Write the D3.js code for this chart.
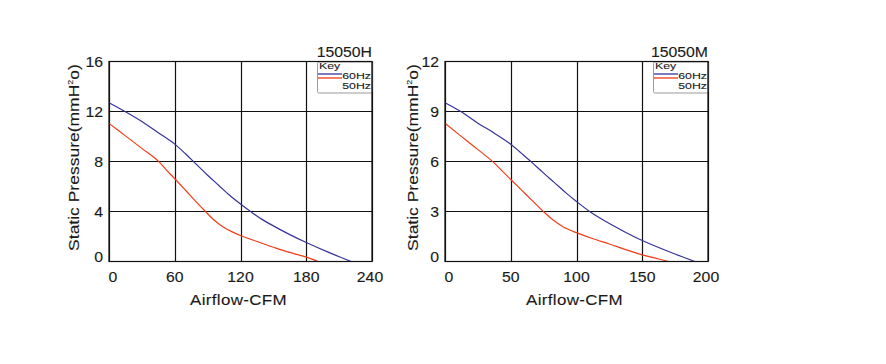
<!DOCTYPE html>
<html>
<head>
<meta charset="utf-8">
<script src="https://cdn.jsdelivr.net/npm/d3@7"></script>
<style>
  body { margin: 0; background: #fff; }
  svg text { font-family: "Liberation Sans", Arial, sans-serif; fill: #1a1a1a; stroke: #1a1a1a; stroke-width: 0.12px; }
</style>
</head>
<body>
<div></div>
<script>
// 15050H
const hTitle = '15050H';
const hXTicks = [0, 60, 120, 180, 240];
const hYTicks = [0, 4, 8, 12, 16];
const h60 = [[0, 12.7], [15, 11.98], [30, 11.2], [45, 10.3], [60, 9.39], [70, 8.6], [80, 7.75], [90, 6.9], [100, 6.1], [110, 5.3], [120, 4.6], [130, 3.95], [140, 3.35], [150, 2.85], [165, 2.15], [180, 1.52], [200, 0.75], [221, 0]];
const h50 = [[0, 11.05], [15, 10.05], [30, 9.05], [45, 8.03], [52, 7.35], [60, 6.62], [70, 5.68], [80, 4.73], [88, 4.0], [96, 3.3], [105, 2.72], [113, 2.35], [120, 2.08], [135, 1.6], [153, 1.05], [168, 0.65], [180, 0.35], [191, 0]];

// 15050M
const mTitle = '15050M';
const mXTicks = [0, 50, 100, 150, 200];
const mYTicks = [0, 3, 6, 9, 12];
const m60 = [[0, 9.53], [12, 9.0], [25, 8.3], [37.5, 7.7], [50, 7.04], [58, 6.5], [66, 5.95], [75, 5.3], [83, 4.75], [92, 4.12], [100, 3.6], [110, 3.0], [120, 2.5], [135, 1.85], [150, 1.26], [170, 0.6], [190, 0]];
const m50 = [[0, 8.29], [18, 7.15], [36.5, 5.98], [43, 5.47], [50, 4.92], [58, 4.3], [66, 3.68], [74.5, 3.02], [82, 2.5], [90, 2.07], [100, 1.73], [112, 1.38], [125, 1.05], [138, 0.7], [150, 0.4], [160, 0.2], [170, 0]];

const legendKeys = ['60Hz', '50Hz'];
const colors = ['#35339a', '#f23c18'];

const svgWidth = 886, svgHeight = 364;
const sx = 1.13; // the reference lettering is a little wide
const svg = d3.select('body').select('div')
  .append('svg')
  .attr('width', svgWidth)
  .attr('height', svgHeight);

const charts = [
  { title: hTitle, xt: hXTicks, yt: hYTicks, series: [h60, h50], left: 109, titleX: 73 },
  { title: mTitle, xt: mXTicks, yt: mYTicks, series: [m60, m50], left: 445, titleX: 412 }
];

const plotTop = 61.5, plotBottom = 261.5, plotW = 263;

charts.forEach(c => {
  const x = d3.scaleLinear()
    .domain([c.xt[0], c.xt[c.xt.length - 1]])
    .range([c.left, c.left + plotW]);
  const y = d3.scaleLinear()
    .domain([c.yt[0], c.yt[c.yt.length - 1]])
    .range([plotBottom, plotTop]);

  const g = svg.append('g');

  // grid
  g.selectAll('.vgrid')
    .data(c.xt)
    .enter()
    .append('line')
    .attr('x1', d => Math.round(x(d)) + 0.5)
    .attr('x2', d => Math.round(x(d)) + 0.5)
    .attr('y1', plotTop)
    .attr('y2', plotBottom)
    .attr('stroke', '#111')
    .attr('stroke-width', 1.2);

  g.selectAll('.hgrid')
    .data(c.yt)
    .enter()
    .append('line')
    .attr('x1', c.left)
    .attr('x2', c.left + plotW)
    .attr('y1', d => y(d))
    .attr('y2', d => y(d))
    .attr('stroke', '#111')
    .attr('stroke-width', 1.2);

  // tick labels
  const last = c.xt.length - 1;
  g.selectAll('.ylab')
    .data(c.yt)
    .enter()
    .append('text')
    .attr('transform', (d, i) => `translate(${c.left - 6},${y(d) + (i === 0 ? 0 : 5.5)}) scale(${sx},1)`)
    .attr('text-anchor', 'end')
    .style('font-size', '14px')
    .text(d => d);

  g.selectAll('.xlab')
    .data(c.xt)
    .enter()
    .append('text')
    .attr('transform', (d, i) => `translate(${x(d) + (i === 0 ? 4 : i === last ? -2 : 0)},282) scale(${sx},1)`)
    .attr('text-anchor', 'middle')
    .style('font-size', '14px')
    .text(d => d);

  // axis titles
  g.append('text')
    .attr('transform', `translate(${c.left + plotW / 2 - 2},305) scale(${sx},1)`)
    .attr('text-anchor', 'middle')
    .style('font-size', '15px')
    .style('letter-spacing', '0.3px')
    .text('Airflow-CFM');

  const yt = g.append('text')
    .attr('transform', `translate(${c.titleX + 6},${(plotTop + plotBottom) / 2 - 4}) rotate(-90) scale(${sx},1)`)
    .attr('text-anchor', 'middle')
    .style('font-size', '15.5px');
  yt.append('tspan').text('Static Pressure(mmH');
  yt.append('tspan').attr('dy', -6).style('font-size', '8px').text('2');
  yt.append('tspan').attr('dy', 6).text('o)');

  // chart title
  g.append('text')
    .attr('transform', `translate(${c.left + plotW},57) scale(${sx},1)`)
    .attr('text-anchor', 'end')
    .style('font-size', '14px')
    .text(c.title);

  // curves
  const line = d3.line()
    .x(d => x(d[0]))
    .y(d => y(d[1]))
    .curve(d3.curveCatmullRom.alpha(0.5));

  g.selectAll('.curve')
    .data(c.series)
    .enter()
    .append('path')
    .attr('d', line)
    .attr('fill', 'none')
    .attr('stroke', (d, i) => colors[i])
    .attr('stroke-width', 1.2);

  // legend
  const lx = c.left + plotW - 55, ly = plotTop;
  g.append('rect')
    .attr('x', lx + 0.5)
    .attr('y', ly + 0.5)
    .attr('width', 54.5)
    .attr('height', 31)
    .attr('rx', 1.5)
    .attr('fill', '#fff')
    .attr('stroke', '#999')
    .attr('stroke-width', 1);
  g.append('text')
    .attr('transform', `translate(${lx + 2},${ly + 7.5}) scale(1.3,1)`)
    .style('font-size', '9.5px')
    .style('stroke-width', '0.1px')
    .text('Key');
  g.selectAll('.lline')
    .data(legendKeys)
    .enter()
    .append('line')
    .attr('x1', lx + 1)
    .attr('x2', lx + 25)
    .attr('y1', (d, i) => ly + 12.5 + i * 4)
    .attr('y2', (d, i) => ly + 12.5 + i * 4)
    .attr('stroke', (d, i) => colors[i])
    .attr('stroke-width', 1.3);
  g.selectAll('.ltext')
    .data(legendKeys)
    .enter()
    .append('text')
    .attr('transform', (d, i) => `translate(${lx + 54},${ly + 17.8 + i * 9.3}) scale(1.3,1)`)
    .attr('text-anchor', 'end')
    .style('font-size', '9.5px')
    .style('stroke-width', '0.1px')
    .text(d => d);

  // frame
  g.append('rect')
    .attr('x', c.left)
    .attr('y', plotTop)
    .attr('width', plotW)
    .attr('height', plotBottom - plotTop)
    .attr('fill', 'none')
    .attr('stroke', '#111')
    .attr('stroke-width', 1.2);
});
</script>
</body>
</html>
